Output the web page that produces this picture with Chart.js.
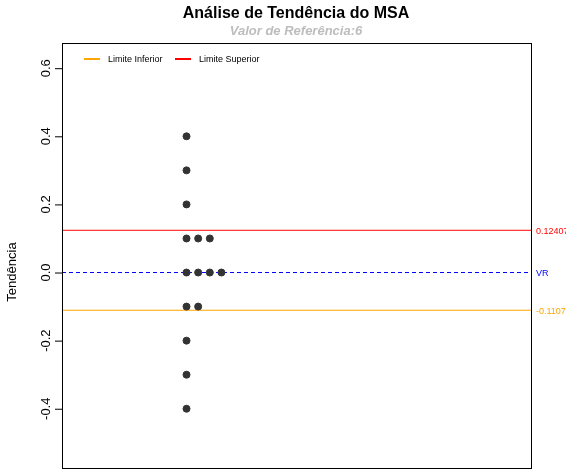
<!DOCTYPE html>
<html><head><meta charset="utf-8">
<script src="https://cdn.jsdelivr.net/npm/chart.js@4"></script>
<style>body{margin:0;background:#fff}#wrap{width:566px;height:473px}</style>
</head><body><div id="wrap"><canvas id="c"></canvas></div>
<script>
// values
const pointX = [1,1,1,1,1,1,1,1,1, 2,2,2, 3,3, 4];
const pointY = [0.4,0.3,0.2,0.1,0,-0.1,-0.2,-0.3,-0.4, 0.1,0,-0.1, 0.1,0, 0];
const yTicks = [-0.4,-0.2,0.0,0.2,0.4,0.6];
const upperLimit = 0.124079;
const lowerLimit = -0.110743;
const refValue = 0;
const xMin = -9.7, xMax = 30.6;

const FONT = '"Liberation Sans", Arial, sans-serif';

const decor = {
  id: 'decor',
  afterDraw(chart) {
    const ctx = chart.ctx, a = chart.chartArea, y = chart.scales.y;
    ctx.save();
    // frame
    ctx.strokeStyle = '#000'; ctx.lineWidth = 1;
    ctx.strokeRect(a.left + 0.5, a.top + 0.5, a.right - a.left, a.bottom - a.top);
    // title
    ctx.textAlign = 'center'; ctx.textBaseline = 'middle';
    ctx.fillStyle = '#000'; ctx.font = 'bold 16px ' + FONT;
    ctx.fillText('Análise de Tendência do MSA', 296, 14);
    ctx.fillStyle = '#bdbdbd'; ctx.font = 'italic bold 13px ' + FONT;
    ctx.fillText('Valor de Referência:6', 296, 31);
    // y ticks rotated
    ctx.fillStyle = '#000'; ctx.font = '13px ' + FONT;
    yTicks.forEach(v => {
      const py = y.getPixelForValue(v);
      ctx.beginPath(); ctx.moveTo(a.left - 7, py + 0.5); ctx.lineTo(a.left, py + 0.5); ctx.stroke();
      ctx.save(); ctx.translate(46, py); ctx.rotate(-Math.PI / 2);
      ctx.fillText(v.toFixed(1), 0, 0); ctx.restore();
    });
    ctx.save(); ctx.translate(12, 272); ctx.rotate(-Math.PI / 2);
    ctx.fillText('Tendência', 0, 0); ctx.restore();
    // right labels
    ctx.textAlign = 'left'; ctx.font = '9px ' + FONT;
    ctx.fillStyle = '#ff0000'; ctx.fillText(String(upperLimit), a.right + 5, y.getPixelForValue(upperLimit) + 1);
    ctx.fillStyle = '#0000ff'; ctx.fillText('VR', a.right + 5, y.getPixelForValue(refValue) + 1);
    ctx.fillStyle = '#ffa500'; ctx.fillText(String(lowerLimit), a.right + 5, y.getPixelForValue(lowerLimit) + 1);
    // legend
    ctx.font = '9px ' + FONT; ctx.fillStyle = '#000'; ctx.lineWidth = 2;
    ctx.strokeStyle = '#ffa500'; ctx.beginPath(); ctx.moveTo(84, 59); ctx.lineTo(100, 59); ctx.stroke();
    ctx.fillText('Limite Inferior', 108, 60);
    ctx.strokeStyle = '#ff0000'; ctx.beginPath(); ctx.moveTo(175, 59); ctx.lineTo(191, 59); ctx.stroke();
    ctx.fillText('Limite Superior', 199, 60);
    ctx.restore();
  }
};

const hline = (v, color, dash) => ({
  type: 'line', data: [{x: xMin, y: v}, {x: xMax, y: v}],
  borderColor: color, borderWidth: 1, borderDash: dash, pointRadius: 0, order: 2
});

new Chart(document.getElementById('c'), {
  type: 'scatter',
  data: {
    datasets: [
      { data: pointX.map((x, i) => ({x, y: pointY[i]})), backgroundColor: '#333', borderColor: '#333', pointRadius: 3.5, order: 1 },
      hline(upperLimit, '#ff0000', []),
      hline(lowerLimit, '#ffa500', []),
      hline(refValue, '#0000ff', [4, 3])
    ]
  },
  options: {
    responsive: true, maintainAspectRatio: false, animation: false,
    layout: { padding: { top: 43, right: 35, bottom: 5, left: 0 } },
    plugins: { legend: { display: false }, tooltip: { enabled: false } },
    scales: {
      x: { type: 'linear', min: xMin, max: xMax, display: false },
      y: { min: -0.574, max: 0.674, grid: { display: false }, border: { display: false },
           ticks: { display: false }, afterFit(s) { s.width = 62; } }
    }
  },
  plugins: [decor]
});
</script></body></html>
